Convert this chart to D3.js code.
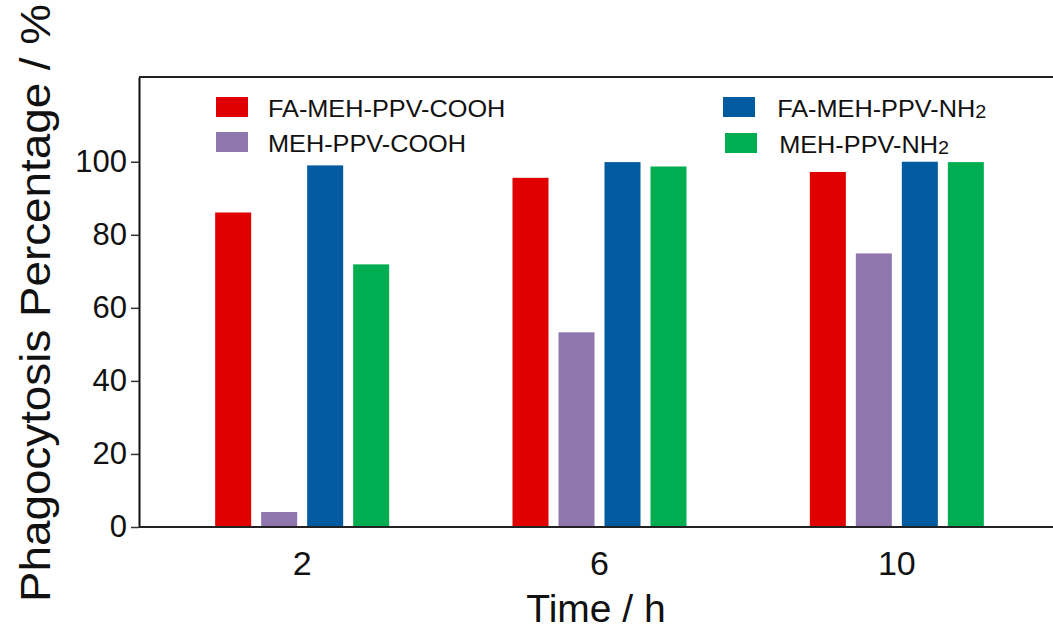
<!DOCTYPE html>
<html>
<head>
<meta charset="utf-8">
<script src="https://cdn.jsdelivr.net/npm/d3@7"></script>
<style>
  body { margin: 0; background: #fff; }
  svg { display: block; font-family: "Liberation Sans", Arial, sans-serif; }
</style>
</head>
<body>
<div id="graphicContainer"></div>
<script>

// data
const times = ["2", "6", "10"]
const seriesNames = ["FA-MEH-PPV-COOH", "MEH-PPV-COOH", "FA-MEH-PPV-NH2", "MEH-PPV-NH2"]
const faCooh = [86.1, 95.6, 97.2]
const cooh = [4.1, 53.3, 74.9]
const faNh2 = [99.0, 99.9, 100]
const nh2 = [71.9, 98.7, 99.9]
const yTicks = [0, 20, 40, 60, 80, 100]

const colors = ["#e00000", "#8f77ae", "#005ba1", "#00ae51"]

const width = 1053, height = 635
const marginleft = 139, margintop = 77, marginright = 0, marginbottom = 108

const svg = d3.select("#graphicContainer")
  .append("svg")
  .attr("width", width)
  .attr("height", height)

const innerW = width - marginleft - marginright
const innerH = height - margintop - marginbottom

const features = svg.append("g")
  .attr("transform", "translate(" + marginleft + "," + margintop + ")")

const allSeries = [faCooh, cooh, faNh2, nh2]

const datum = times.map((t, i) => ({
  time: t,
  values: seriesNames.map((s, k) => ({ key: s, idx: k, value: allSeries[k][i] }))
}))

const x0 = d3.scaleBand()
  .domain(times)
  .range([14.5, 906.5])

const x1 = d3.scaleBand()
  .domain(seriesNames)
  .range([-87, 87])
  .paddingInner(0.217)

const y = d3.scaleLinear()
  .domain([0, 123.2])
  .range([innerH, 0])

// bars
const groups = features.selectAll(".grp")
  .data(datum)
  .enter()
  .append("g")
  .attr("class", "grp")
  .attr("transform", d => "translate(" + (x0(d.time) + x0.bandwidth() / 2) + ",0)")

groups.selectAll("rect")
  .data(d => d.values)
  .enter()
  .append("rect")
  .attr("x", d => x1(d.key))
  .attr("width", x1.bandwidth())
  .attr("y", d => y(d.value))
  .attr("height", d => y(0) - y(d.value))
  .attr("fill", d => colors[d.idx])

// y axis
const yAxis = features.append("g")
  .call(d3.axisLeft(y).tickValues(yTicks).tickSize(8).tickPadding(4).tickSizeOuter(0))
yAxis.select(".domain").attr("stroke", "#111").attr("stroke-width", 2)
yAxis.selectAll(".tick line").attr("stroke", "#333").attr("stroke-width", 1.5)
yAxis.selectAll(".tick text")
  .attr("font-size", 31)
  .attr("fill", "#111")
  .attr("font-family", "Liberation Sans, Arial, sans-serif")

// x axis
const xAxis = features.append("g")
  .attr("transform", "translate(0," + innerH + ")")
  .call(d3.axisBottom(x0).tickSize(0).tickPadding(24))
xAxis.select(".domain")
  .attr("d", "M0,0H" + innerW)
  .attr("stroke", "#222").attr("stroke-width", 2)
xAxis.selectAll(".tick text")
  .attr("font-size", 34)
  .attr("fill", "#111")
  .attr("font-family", "Liberation Sans, Arial, sans-serif")

// top frame line
features.append("line")
  .attr("x1", 0).attr("x2", innerW)
  .attr("y1", 0).attr("y2", 0)
  .attr("stroke", "#222").attr("stroke-width", 2)

// axis titles
svg.append("text")
  .attr("x", marginleft + innerW / 2)
  .attr("y", 622)
  .attr("text-anchor", "middle")
  .attr("font-size", 39)
  .attr("fill", "#111")
  .text("Time / h")

svg.append("text")
  .attr("transform", "translate(50," + 303 + ") rotate(-90)")
  .attr("text-anchor", "middle")
  .attr("font-size", 42)
  .attr("fill", "#111")
  .attr("textLength", 598)
  .attr("lengthAdjust", "spacingAndGlyphs")
  .text("Phagocytosis Percentage / %")

// legend
const legendPos = [[77, 20], [77, 55], [584, 20], [586, 56]]
const legend = features.selectAll(".key")
  .data(seriesNames)
  .enter()
  .append("g")
  .attr("class", "key")
  .attr("transform", (d, i) => "translate(" + legendPos[i][0] + "," + legendPos[i][1] + ")")

legend.append("rect")
  .attr("width", 32)
  .attr("height", 20)
  .attr("fill", (d, i) => colors[i])

const keyText = legend.append("text")
  .attr("x", (d, i) => i < 2 ? 52 : 54)
  .attr("y", 20)
  .attr("font-size", 23)
  .attr("fill", "#111")
  .attr("transform", "scale(1.1,1)")
  .attr("transform-origin", "52 0")

keyText.each(function(d) {
  const t = d3.select(this)
  if (d.endsWith("2")) {
    t.append("tspan").text(d.slice(0, -1))
    t.append("tspan").attr("font-size", 18).attr("dy", 1).text("2")
  } else {
    t.text(d)
  }
})

</script>
</body>
</html>
